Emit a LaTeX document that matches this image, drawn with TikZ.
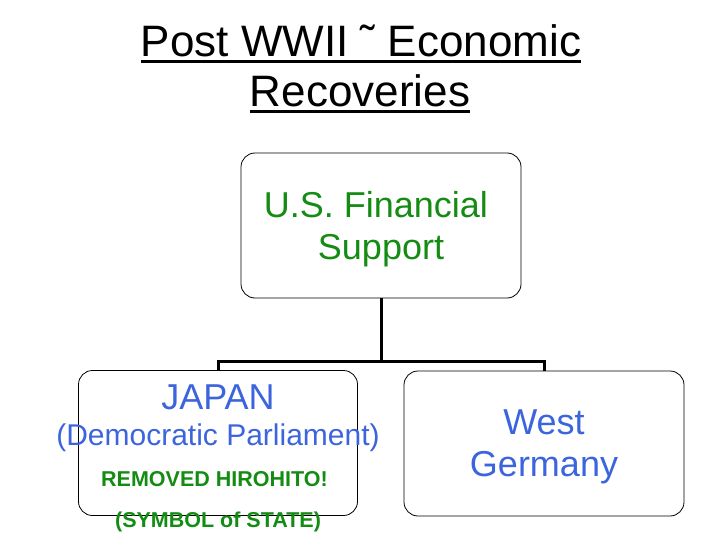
\documentclass[tikz,border=0pt]{standalone}
\usepackage{fontspec}
\setmainfont{Liberation Sans}
\usepackage{xcolor}
\usetikzlibrary{calc,positioning}

\definecolor{lineblue}{RGB}{60,100,220}
\definecolor{linegreen}{RGB}{20,140,20}

\tikzset{
  box/.style={draw,line width=0.8pt,rounded corners=14pt,minimum width=280pt,minimum height=145pt,inner sep=0pt},
  branch/.style={draw,line width=3pt},
  line/.style={draw=none,fill=none,anchor=base,inner sep=0pt}
}

\begin{document}
\begin{tikzpicture}[x=1pt,y=-1pt]
    \useasboundingbox (0,0) rectangle (720,540);

    % Title
    \node[line,font=\fontsize{44}{51}\selectfont] (title1) at (361,56.5) {Post WWII ˜ Economic};
    \node[line,font=\fontsize{44}{51}\selectfont] (title2) at (360,107) {Recoveries};
    \draw[line width=3.2pt] ([yshift=-4.7pt]title1.base west) -- ([yshift=-4.7pt]title1.base east);
    \draw[line width=3.2pt] ([yshift=-4.7pt]title2.base west) -- ([yshift=-4.7pt]title2.base east);

    % U.S.
    \node[box] (usbox) at (381,225.5) {};
    \node[line,text=linegreen,font=\fontsize{36}{41}\selectfont] (usline1) at ($(usbox)+(-5,-7.8)$) {U.S. Financial};
    \node[line,text=linegreen,font=\fontsize{36}{41}\selectfont] (usline2) at ($(usbox)+(0,33.5)$) {Support};

    % Japan
    \node[box,minimum width=279pt] (japanbox) at (218,443) {};
    \node[line,text=lineblue,font=\fontsize{36}{41}\selectfont] (japanline1) at ($(japanbox)+(0,-34)$) {JAPAN};
    \node[line,text=lineblue,font=\fontsize{30}{34}\selectfont] (japanline2) at ($(japanbox)+(0,2)$) {(Democratic Parliament)};
    \node[line,text=linegreen,font=\fontsize{21.5}{25}\selectfont\bfseries] (japanline3) at ($(japanbox)+(-3.5,43.7)$) {REMOVED HIROHITO!};
    \node[line,text=linegreen,font=\fontsize{21.5}{25}\selectfont\bfseries] (japanline4) at ($(japanbox)+(0,84)$) {(SYMBOL of STATE)};

    % West Germany
    \node[box] (gerbox) at (544,443.5) {};
    \node[line,text=lineblue,font=\fontsize{36}{41}\selectfont] (gerline1) at ($(gerbox)+(0,-9.5)$) {West};
    \node[line,text=lineblue,font=\fontsize{36}{41}\selectfont] (gerline2) at ($(gerbox)+(0,33)$) {Germany};

    % Branches
    \coordinate (fork) at (381,361);
    \draw[branch] (usbox.south) -- (fork);
    \draw[branch] (japanbox.north) |- (fork) -| (gerbox.north);
\end{tikzpicture}
\end{document}
